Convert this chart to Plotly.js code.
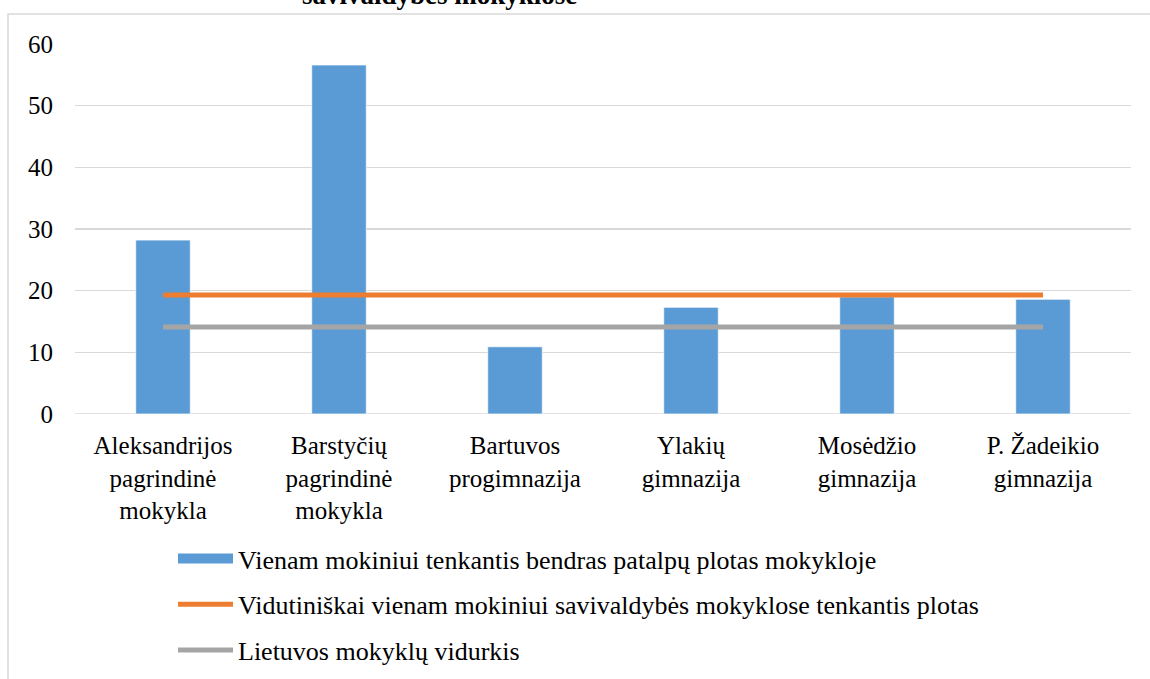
<!DOCTYPE html>
<html>
<head>
<meta charset="utf-8">
<script src="https://cdn.plot.ly/plotly-3.0.1.min.js"></script>
<style>html,body{margin:0;padding:0;background:#fff;}#chart{width:1150px;height:679px;}</style>
</head>
<body>
<div id="chart"></div>
<script>
const categories = [
  "Aleksandrijos<br>pagrindinė<br>mokykla",
  "Barstyčių<br>pagrindinė<br>mokykla",
  "Bartuvos<br>progimnazija",
  "Ylakių<br>gimnazija",
  "Mosėdžio<br>gimnazija",
  "P. Žadeikio<br>gimnazija"
];
const areaPerStudent = [28.2, 56.6, 10.9, 17.3, 19.0, 18.6];
const municipalAverage = [19.3, 19.3, 19.3, 19.3, 19.3, 19.3];
const lithuaniaAverage = [14.1, 14.1, 14.1, 14.1, 14.1, 14.1];
const seriesNames = [
  "Vienam mokiniui tenkantis bendras patalpų plotas mokykloje",
  "Vidutiniškai vienam mokiniui savivaldybės mokyklose tenkantis plotas",
  "Lietuvos mokyklų vidurkis"
];
const titleText = "savivaldybės mokyklose";
const yTicks = [0, 10, 20, 30, 40, 50, 60];

const serif = "Liberation Serif";
const blue = "#5B9BD5", orange = "#ED7D31", gray = "#A5A5A5";

const traces = [
  {
    type: "bar", x: categories, y: areaPerStudent, name: seriesNames[0],
    marker: {color: blue, line: {color: "rgba(255,255,255,0.7)", width: 1}},
    showlegend: false, hoverinfo: "y"
  },
  {
    // legend entry for the bar series (wide rectangle key, as in the original)
    type: "scatter", mode: "lines", x: [categories[0]], y: [null], name: seriesNames[0],
    line: {color: blue, width: 13}, legendgroup: "a", hoverinfo: "skip"
  },
  {
    type: "scatter", mode: "lines", x: categories, y: municipalAverage, name: seriesNames[1],
    line: {color: orange, width: 5}, legendgroup: "b"
  },
  {
    type: "scatter", mode: "lines", x: categories, y: lithuaniaAverage, name: seriesNames[2],
    line: {color: gray, width: 5}, legendgroup: "c"
  }
];

const L = 75, R = 19, T = 44, B = 265, W = 1150, H = 679;
const pw = W - L - R, ph = H - T - B;
const px = v => (v - L) / pw;
const py = v => (H - B - v) / ph;

const layout = {
  width: W, height: H,
  margin: {l: L, r: R, t: T, b: B, pad: 0, autoexpand: false},
  paper_bgcolor: "#ffffff", plot_bgcolor: "#ffffff",
  font: {family: serif, size: 25, color: "#000000"},
  bargap: 0.69,
  showlegend: true,
  legend: {
    x: px(173), xanchor: "left", y: py(535), yanchor: "top",
    orientation: "v", traceorder: "grouped", tracegroupgap: 9,
    itemwidth: 55, font: {family: serif, size: 26, color: "#000"},
    bgcolor: "rgba(0,0,0,0)", borderwidth: 0
  },
  xaxis: {
    type: "category", showgrid: false, zeroline: false, showline: false,
    ticks: "", ticklabelstandoff: 14, automargin: false,
    tickfont: {family: serif, size: 25, color: "#000"},
    fixedrange: true
  },
  yaxis: {
    range: [0, 60], tickvals: yTicks, ticktext: yTicks.map(String),
    showgrid: true, gridcolor: "#D9D9D9", gridwidth: 1.5,
    zeroline: false, showline: false, ticks: "", automargin: false,
    ticklabelstandoff: 21,
    tickfont: {family: serif, size: 25, color: "#000"}, fixedrange: true
  },
  shapes: [
    {type: "line", xref: "paper", yref: "y", x0: 0, x1: 1, y0: 0, y1: 0,
     line: {color: "#D9D9D9", width: 1.5}, layer: "below"},
    {type: "rect", xref: "paper", yref: "paper",
     x0: px(8), x1: px(1170), y0: py(700), y1: py(14),
     line: {color: "#D9D9D9", width: 1.5}, fillcolor: "rgba(0,0,0,0)", layer: "below"}
  ],
  annotations: [
    {text: "<b>" + titleText + "</b>", xref: "paper", yref: "paper", x: px(439), y: py(12),
     xanchor: "center", yanchor: "bottom", showarrow: false,
     font: {family: serif, size: 27, color: "#000"}}
  ]
};

Plotly.newPlot("chart", traces, layout, {displayModeBar: false, staticPlot: true});
</script>
</body>
</html>
